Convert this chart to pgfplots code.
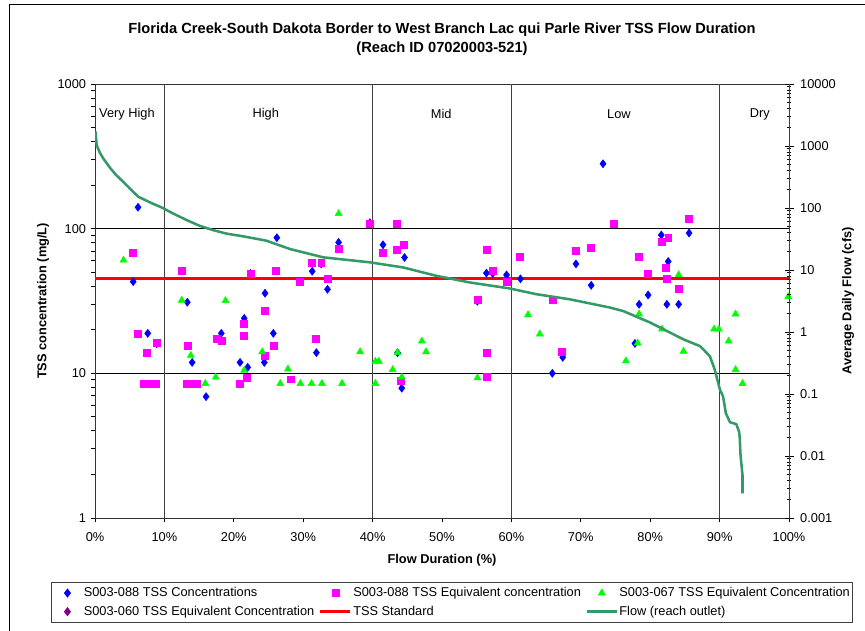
\documentclass[border=0pt]{standalone}
\usepackage{fontspec}
\setmainfont{Liberation Sans}
\usepackage{pgfplots}
\pgfplotsset{compat=1.18}
\definecolor{tssblue}{RGB}{0,0,255}
\definecolor{tsspink}{RGB}{255,0,255}
\definecolor{tssgreen}{RGB}{0,255,0}
\definecolor{tsspurple}{RGB}{128,0,128}
\definecolor{flowgreen}{RGB}{51,153,102}
\newcommand{\fs}{\fontsize{9.6}{11.5}\selectfont}
\begin{document}
\begin{tikzpicture}
\draw[black, line width=0.75pt] (6.75pt,-3.75pt) rectangle (700pt,-520pt);
\begin{axis}[
  at={(71.25pt,-388.5pt)}, anchor=south west,
  scale only axis, width=520.5pt, height=325.5pt,
  xmin=0, xmax=100, ymode=log, ymin=1, ymax=1000,
  xtick={0,10,20,30,40,50,60,70,80,90,100},
  xticklabels={0\%,10\%,20\%,30\%,40\%,50\%,60\%,70\%,80\%,90\%,100\%},
  ytick={1,10,100,1000}, yticklabels={1,10,100,1000},
  minor ytick={}, 
  extra x ticks={10,40,60,90}, extra x tick labels={},
  extra x tick style={grid=major, major tick length=0pt, major grid style={black!75, line width=0.75pt}},
  ymajorgrids, major grid style={black, line width=0.6pt},
  axis line style={black!80, line width=0.75pt},
  tick align=outside, major tick length=3.2pt, tick style={black, line width=0.75pt},
  tick pos=left,
  tick label style={font=\fs},
  xticklabel style={yshift=-4.5pt},
  title={Florida Creek-South Dakota Border to West Branch Lac qui Parle River TSS Flow Duration\\(Reach ID 07020003-521)},
  title style={at={(axis description cs:0.5,1.084)}, anchor=center, align=center, font=\fontsize{11}{14.25}\selectfont\bfseries},
  xlabel={Flow Duration (\%)},
  xlabel style={at={(axis description cs:0.5,-0.0968)}, anchor=center, font=\fs\bfseries},
  ylabel={TSS concentration (mg/L)},
  ylabel style={at={(axis description cs:-0.0749,0.5)}, anchor=center, font=\fs\bfseries},
  legend columns=3,
  legend cell align=left,
  legend image code/.code={\pgfpathrectangle{\pgfpoint{0pt}{-2pt}}{\pgfpoint{22.5pt}{4pt}}\pgfusepath{discard}\draw[mark repeat=2,mark phase=2,#1] plot coordinates {(0pt,0pt) (11.25pt,0pt) (22.5pt,0pt)};},
  legend style={at={(axis description cs:-0.0638,-0.1468)}, anchor=north west,
    draw=black!75, line width=0.6pt, font=\fs, inner xsep=1pt, inner ysep=2pt, row sep=1.5pt,
    nodes={inner xsep=1pt, inner ysep=2pt, text depth=0.15em},
    /tikz/every odd column/.append style={column sep=0pt},
    /tikz/every even column/.append style={column sep=2.5pt}},
]
% TSS standard drawn first (below markers)
\addplot[red, line width=2.2pt, forget plot] coordinates {(0,45) (100,45)};

\addplot[only marks, mark=diamond*, mark size=3pt, color=tssblue] coordinates {
(6.2,140.6) (5.5,43) (13.3,31) (21.5,24) (24.5,35.8) (22.4,49) (26.2,86.6) (31.3,50.8)
(32.6,57) (33.5,38.1) (35.1,80.4) (39.6,110)
(7.6,18.9) (8.9,16.0) (14.0,11.9) (16.0,6.9) (18.2,18.9) (20.9,11.9) (22.0,11.0)
(25.7,18.9) (24.4,11.9) (31.9,13.9)
(41.5,77.4) (44.6,63.2) (43.6,13.9) (44.2,7.9) (55.1,31.5) (56.4,49.3) (57.3,49)
(59.3,47.9) (61.3,45) (65.9,10) (67.4,12.9) (69.3,57.1) (71.5,40.6)
(73.2,281) (85.6,93.3) (81.6,90.4) (82.6,59.3) (79.7,34.8) (78.4,30) (82.4,30) (84.1,30) (77.8,16.1)
};
\addlegendentry{S003-088 TSS Concentrations}

\addplot[only marks, mark=square*, mark size=2.6pt, color=tsspink] coordinates {
(5.4,68) (12.5,50.8) (24.4,27) (22.4,48.7) (26.1,50.8) (29.5,43) (31.2,58.3) (32.6,58.3)
(33.5,45) (35.1,72.3) (39.6,108)
(6.2,18.7) (8.9,16.2) (7.5,13.8) (7.0,8.5) (8.2,8.5) (8.7,8.5) (13.3,15.6) (13.2,8.5)
(13.9,8.5) (14.7,8.5) (17.5,17.4) (18.2,16.7) (21.5,22.1) (21.5,18.2) (21.9,9.3) (20.9,8.5)
(25.7,15.6) (24.4,13.3) (28.2,9.1) (31.8,17.3)
(43.5,108) (41.5,68) (43.5,72) (44.5,77) (44.1,8.9) (56.4,9.4) (56.4,13.9) (55.1,32.1)
(56.4,72) (57.3,51.1) (59.3,43) (61.2,64.2) (65.9,32.1) (67.3,14.1) (69.3,70) (71.5,74)
(74.8,108) (85.6,117) (82.6,86.6) (81.6,81.2) (78.4,64.2) (82.2,53.3) (79.7,48.7) (82.4,45) (84.1,38.7)
};
\addlegendentry{S003-088 TSS Equivalent concentration}

\addplot[only marks, mark=triangle*, mark size=3pt, color=tssgreen] coordinates {
(4.1,60.6) (12.5,32) (18.8,31.8) (35.1,127) (13.8,13.3) (15.9,8.5) (17.4,9.4) (21.5,10.5)
(24.1,14.1) (27.8,10.7) (26.7,8.5) (29.6,8.5) (31.2,8.5) (32.7,8.5) (35.6,8.5) (40.4,8.5)
(38.2,14.1) (40.4,12.1) (40.9,12.1) (43.6,13.9) (47.1,16.7) (47.7,14.1) (42.9,10.6) (44.2,9.4)
(55.1,9.3) (62.4,25.4) (64.1,18.7) (84.1,48) (78.4,25.7) (81.7,20.2) (99.9,33.9) (92.3,25.7)
(89.2,20.2) (89.9,20.2) (91.3,16.7) (78.2,16.2) (84.8,14.2) (76.5,12.2) (92.3,10.6) (93.3,8.5)
};
\addlegendentry{S003-067 TSS Equivalent Concentration}

\addlegendimage{only marks, mark=diamond*, mark size=3pt, color=tsspurple}
\addlegendentry{S003-060 TSS Equivalent Concentration}
\addlegendimage{red, line width=2.2pt}
\addlegendentry{TSS Standard}
\addlegendimage{flowgreen, line width=1.8pt}
\addlegendentry{Flow (reach outlet)}

\node[font=\fs] at (rel axis cs:0.046,0.931) {Very High};
\node[font=\fs] at (rel axis cs:0.246,0.931) {High};
\node[font=\fs] at (rel axis cs:0.499,0.931) {Mid};
\node[font=\fs] at (rel axis cs:0.755,0.931) {Low};
\node[font=\fs] at (rel axis cs:0.958,0.931) {Dry};
\end{axis}

\begin{axis}[
  at={(71.25pt,-388.5pt)}, anchor=south west,
  scale only axis, width=520.5pt, height=325.5pt,
  xmin=0, xmax=100, ymode=log, ymin=0.001, ymax=10000,
  axis x line=none, axis y line*=right,
  ytick={0.001,0.01,0.1,1,10,100,1000,10000},
  yticklabels={0.001,0.01,0.1,1,10,100,1000,10000},
  minor ytick={},
  axis line style={black!75, line width=0.75pt},
  tick align=center, major tick length=6.75pt, tick style={black, line width=0.75pt},
  tick label style={font=\fs},
  yticklabel style={xshift=1.5pt},
  ylabel={Average Daily Flow (cfs)},
  ylabel style={at={(axis description cs:1.085,0.5)}, anchor=center, rotate=0, font=\fs\bfseries},
]
\addplot[flowgreen, line width=1.9pt, line join=round] coordinates {
(0.07,1718) (0.24,1031) (0.7,780) (1.2,627) (2.2,440) (3.0,345) (4.08,263) (5.0,207)
(6.24,152) (8.0,122) (9.6,102) (11.4,80) (13.2,64) (15.0,52) (17.0,44) (19.0,38.5)
(21.3,35) (24.7,29.7) (28.1,21.8) (32.9,16.0)
(39.6,13.3) (44.4,11.0) (49.2,8.05) (54.0,6.3) (59.8,5.03) (63.6,4.07) (68.4,3.37)
(74.2,2.48) (76.1,2.18) (80.0,1.42) (84.8,0.76) (87.2,0.59) (88.6,0.406) (89.3,0.248)
(90.05,0.117) (90.5,0.0915) (90.9,0.049) (91.5,0.035) (92.4,0.0327) (92.8,0.0248)
(92.9,0.0201) (93.0,0.0108) (93.3,0.0049) (93.3,0.0025)
};
\end{axis}
\pgfresetboundingbox
\path[use as bounding box] (0,0) rectangle (648.75pt,-473.25pt);
\end{tikzpicture}
\end{document}
